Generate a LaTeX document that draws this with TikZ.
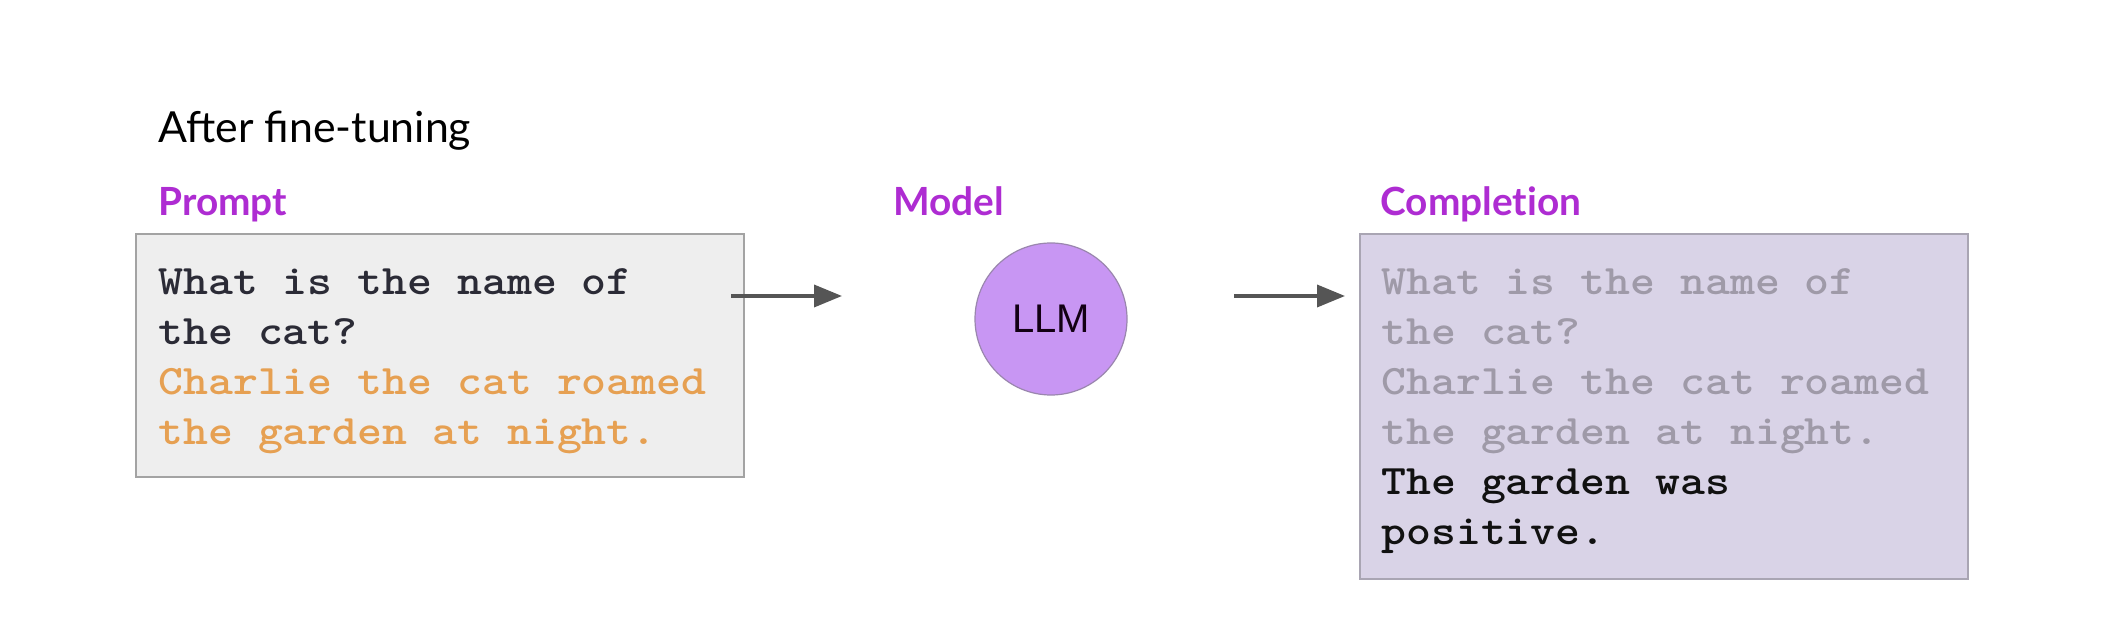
\documentclass[tikz,border=0pt]{standalone}
\usepackage{fontspec}
\usepackage{graphicx}
\usetikzlibrary{arrows.meta}
\newfontfamily\latofont{Lato}
\newfontfamily\latolabelfont{Lato}[Ligatures=NoCommon]
\newfontfamily\arialfont{Liberation Sans}
\definecolor{labelpurple}{HTML}{AE2CD2}
\definecolor{promptfill}{HTML}{EEEEEE}
\definecolor{boxborder}{HTML}{A3A3A3}
\definecolor{complfill}{HTML}{D9D3E7}
\definecolor{complborder}{HTML}{A9A5B3}
\definecolor{darktext}{HTML}{2B2B36}
\definecolor{orangetext}{HTML}{E6A052}
\definecolor{greytext}{HTML}{9F9AA8}
\definecolor{blacktext}{HTML}{111111}
\definecolor{llmfill}{HTML}{C896F3}
\definecolor{llmborder}{HTML}{9A86AE}
\definecolor{arrowgrey}{HTML}{555555}
\newcommand{\cl}[1]{\scalebox{1.13}[1]{#1}}
\tikzset{
  heading/.style={anchor=base west, inner sep=0pt, font=\latofont\fontsize{21.4pt}{25pt}\selectfont, text=black},
  label/.style={anchor=base west, inner sep=0pt, font=\latolabelfont\bfseries\fontsize{19.4pt}{23pt}\selectfont, text=labelpurple},
  codeline/.style={anchor=base west, inner sep=0pt, font=\ttfamily\bfseries\fontsize{21pt}{25pt}\selectfont},
  promptbox/.style={draw=boxborder, line width=1pt, fill=promptfill, anchor=north west, inner sep=0pt},
  complbox/.style={draw=complborder, line width=1pt, fill=complfill, anchor=north west, inner sep=0pt},
  flow/.style={draw=arrowgrey, line width=1.8pt, -{Triangle[length=14pt,width=11pt]}},
}
\begin{document}
\begin{tikzpicture}[x=0.5pt,y=-0.5pt]
\useasboundingbox[fill=white] (0,0) rectangle (2120,624);
% heading and labels
\node[heading] (title) at (158,143) {After fine-tuning};
\node[label] (plabel) at (158,216) {Prompt};
\node[label] (mlabel) at (893,216) {Model};
\node[label] (clabel) at (1380,216) {Completion};
% boxes
\node[promptbox, minimum width=304pt, minimum height=121.5pt] (prompt) at (135,233) {};
\node[complbox, minimum width=304pt, minimum height=172.5pt] (compl) at (1359,233) {};
% prompt text
\node[codeline, text=darktext] (p1) at (158,295) {\cl{What is the name of}};
\node[codeline, text=darktext] (p2) at (158,345) {\cl{the cat?}};
\node[codeline, text=orangetext] (p3) at (158,395) {\cl{Charlie the cat roamed}};
\node[codeline, text=orangetext] (p4) at (158,445) {\cl{the garden at night.}};
% completion text
\node[codeline, text=greytext] (c1) at (1381,295) {\cl{What is the name of}};
\node[codeline, text=greytext] (c2) at (1381,345) {\cl{the cat?}};
\node[codeline, text=greytext] (c3) at (1381,395) {\cl{Charlie the cat roamed}};
\node[codeline, text=greytext] (c4) at (1381,445) {\cl{the garden at night.}};
\node[codeline, text=blacktext] (c5) at (1381,495) {\cl{The garden was}};
\node[codeline, text=blacktext] (c6) at (1381,545) {\cl{positive.}};
% model
\node[circle, draw=llmborder, line width=0.6pt, fill=llmfill, minimum size=76pt, inner sep=0pt,
      font=\arialfont\fontsize{20pt}{24pt}\selectfont, text=black!85!violet] (llm) at (1051,319) {LLM};
% arrows
\coordinate (a1s) at (731,296);
\coordinate (a1e) at (842,296);
\coordinate (a2s) at (1234,296);
\coordinate (a2e) at (1345,296);
\draw[flow] (a1s) -- (a1e);
\draw[flow] (a2s) -- (a2e);
\end{tikzpicture}
\end{document}
